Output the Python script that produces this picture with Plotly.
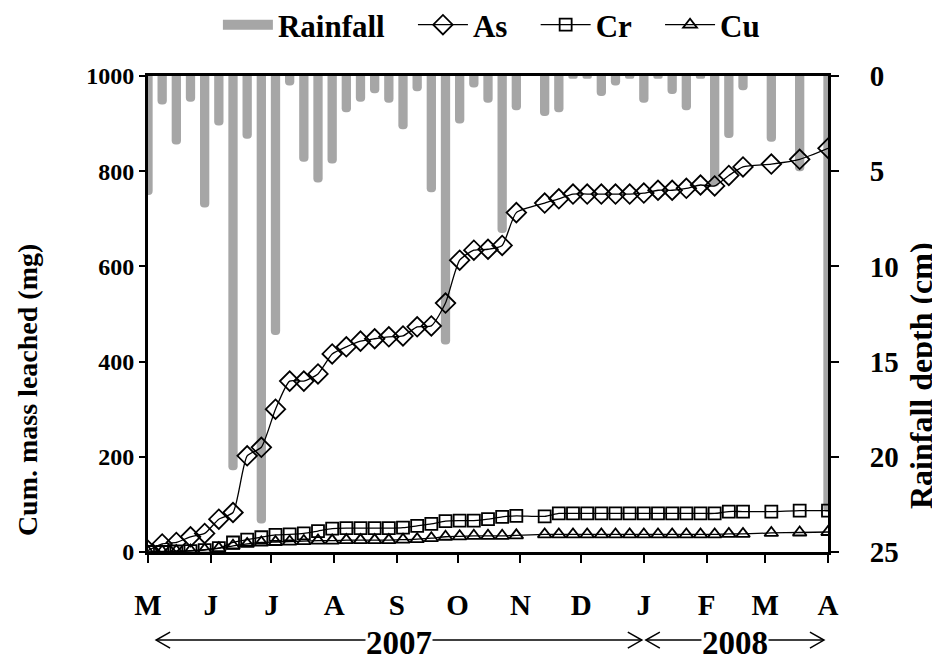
import plotly.graph_objects as go
import pandas as pd

# Weekly sampling dates (May 1, 2007 -> Apr 1, 2008)
week_dates = pd.date_range("2007-05-01", "2008-04-01", freq="7D")

# Weekly rainfall depth (cm)
rainfall_cm = [6.25, 1.5, 3.6, 1.35, 6.9, 2.6, 20.7, 3.3, 23.5, 13.6,
               0.5, 4.5, 5.6, 4.6, 1.9, 1.35, 0.9, 1.4, 2.8, 0.8,
               6.1, 14.1, 2.5, 0.6, 1.4, 8.25, 1.8, 0.0, 2.1, 1.9,
               0.15, 0.15, 1.05, 0.5, 0.15, 1.4, 0.15, 0.95, 1.8, 0.15,
               5.8, 3.25, 0.75, 0.0, 3.45, 0.0, 5.0, 0.0, 22.9]

# Cumulative mass leached (mg); None = no sample that week
as_mg = [3, 17, 20, 32, 39, 69, 83, 202, 220, 300,
         359, 359, 374, 416, 431, 443, 448, 452, 454, 473,
         475, 523, 613, 634, 636, 644, 713, None, 733, 742,
         752, 752, 752, 752, 752, 754, 760, 760, 764, 771,
         769, 791, 809, None, 815, None, 825, None, 848]
cr_mg = [0, 0, 1, 2, 4, 8, 20, 26, 31, 36,
         37, 39, 44, 49, 50, 50, 50, 50, 51, 55,
         59, 65, 66, 66, 69, 74, 76, None, 75, 81,
         81, 81, 81, 81, 81, 81, 81, 81, 81, 81,
         81, 85, 85, None, 85, None, 87, None, 87]
cu_mg = [0, 1, 2, 3, 5, 8, 13, 17, 20, 21,
         22, 23, 24, 24, 25, 25, 25, 25, 26, 27,
         29, 32, 33, 34, 34, 34, 35, None, 37, 37,
         37, 37, 37, 37, 37, 37, 37, 37, 37, 37,
         37, 38, 38, None, 40, None, 41, None, 42]

month_ticks = ["2007-05-01", "2007-06-01", "2007-07-01", "2007-08-01",
               "2007-09-01", "2007-10-01", "2007-11-01", "2007-12-01",
               "2008-01-01", "2008-02-01", "2008-03-01", "2008-04-01"]
month_labels = ["M", "J", "J", "A", "S", "O", "N", "D", "J", "F", "M", "A"]

FONT = "Liberation Serif, Times New Roman, serif"
DAY_MS = 86400000
GRAY = "#A6A6A6"
SP = "\u00a0\u00a0\u00a0"

fig = go.Figure()
fig.add_trace(go.Bar(
    x=week_dates, y=rainfall_cm, name="Rainfall", yaxis="y",
    marker=dict(color=GRAY, line=dict(width=0)),
    width=4.6 * DAY_MS, showlegend=False,
))
# legend entry for rainfall drawn as a wide gray band
fig.add_trace(go.Scatter(
    x=[None], y=[None], name="Rainfall" + SP, mode="lines", yaxis="y",
    line=dict(color=GRAY, width=18),
))

line_style = dict(color="black", width=1.3, shape="spline", smoothing=0.6)
for name, vals, sym, size, pad in [("As", as_mg, "diamond-open", 15, SP),
                                   ("Cr", cr_mg, "square-open", 12, SP),
                                   ("Cu", cu_mg, "triangle-up-open", 12, "")]:
    fig.add_trace(go.Scatter(
        x=week_dates, y=vals, name=name + pad, yaxis="y2", mode="lines+markers",
        connectgaps=True, line=line_style,
        marker=dict(symbol=sym, size=size, color="black",
                    line=dict(width=1.8, color="black")),
    ))

# Year arrows below the axis
yr = -0.185
for (x0, x1, label) in [("2007-05-05", "2007-12-31", "2007"),
                        ("2008-01-02", "2008-03-30", "2008")]:
    fig.add_shape(type="line", xref="x", yref="paper", x0=x0, x1=x1, y0=yr, y1=yr,
                  line=dict(color="black", width=1.5))
    for anchor, sgn in [(x0, 1), (x1, -1)]:
        fig.add_shape(type="path", xref="x", yref="paper",
                      xsizemode="pixel", ysizemode="pixel",
                      xanchor=anchor, yanchor=yr,
                      path=f"M {sgn*14},8 L 0,0 L {sgn*14},-8",
                      line=dict(color="black", width=1.5))
    mid = pd.Timestamp(x0) + (pd.Timestamp(x1) - pd.Timestamp(x0)) / 2
    fig.add_annotation(x=mid, y=yr, xref="x", yref="paper", text="<b>" + label + "</b>",
                       showarrow=False, bgcolor="white", borderpad=0,
                       xanchor="center", yanchor="middle", yshift=-3,
                       font=dict(family=FONT, size=33, color="black"))

# Axis titles
fig.add_annotation(x=-0.178, y=0.34, xref="paper", yref="paper",
                   text="<b>Cum. mass leached (mg)</b>", textangle=-90,
                   showarrow=False, xanchor="center", yanchor="middle",
                   font=dict(family=FONT, size=28, color="black"))
fig.add_annotation(x=1.137, y=0.37, xref="paper", yref="paper",
                   text="<b>Rainfall depth (cm)</b>", textangle=-90,
                   showarrow=False, xanchor="center", yanchor="middle",
                   font=dict(family=FONT, size=32, color="black"))

fig.update_layout(
    width=940, height=661,
    # page body adds an 8px offset; margins compensate so the plot sits at 148..828 x 76..552
    margin=dict(l=140, r=120, t=68, b=117, autoexpand=False),
    paper_bgcolor="white", plot_bgcolor="white",
    font=dict(family=FONT, color="black"),
    barcornerradius=5,
    showlegend=True,
    legend=dict(orientation="h", x=0.505, xanchor="center", y=1.107, yanchor="middle",
                font=dict(family=FONT, size=31, weight="bold", color="black"),
                itemwidth=50, tracegroupgap=0),
    xaxis=dict(type="date", range=["2007-05-01", "2008-04-01"],
               tickvals=month_ticks, ticktext=month_labels,
               ticks="outside", ticklen=8, tickwidth=2, tickcolor="black",
               showline=True, linewidth=3, linecolor="black", mirror=True,
               showgrid=False, zeroline=False, ticklabelstandoff=17,
               automargin=False,
               tickfont=dict(family=FONT, size=29, weight="bold")),
    yaxis=dict(range=[25, 0], dtick=5, side="right",
               ticks="outside", ticklen=8, tickwidth=2, tickcolor="black",
               showline=True, linewidth=3, linecolor="black",
               showgrid=False, zeroline=False, ticklabelstandoff=25,
               automargin=False,
               tickfont=dict(family=FONT, size=29, weight="bold")),
    yaxis2=dict(range=[0, 1000], dtick=200, side="left", overlaying="y",
                ticks="outside", ticklen=6, tickwidth=2, tickcolor="black",
                showline=True, linewidth=3, linecolor="black",
                showgrid=False, zeroline=False, ticklabelstandoff=0,
                automargin=False,
                tickfont=dict(family=FONT, size=24, weight="bold")),
)

fig.write_html("out.html")
